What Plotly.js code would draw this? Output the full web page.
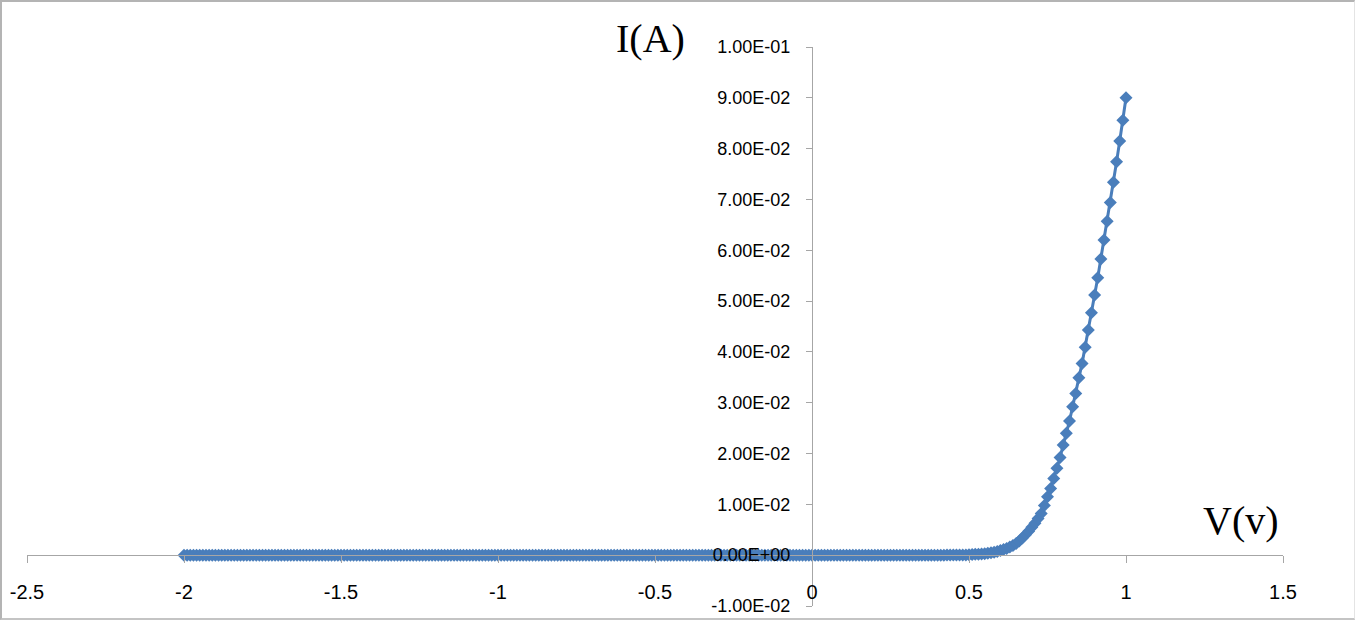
<!DOCTYPE html>
<html>
<head>
<meta charset="utf-8">
<script src="https://cdn.plot.ly/plotly-3.0.1.min.js"></script>
<style>
  html, body { margin: 0; padding: 0; background: #fff; }
  #wrap { position: relative; width: 1358px; height: 624px; overflow: hidden; }
  #chart { position: absolute; left: 0; top: 0; width: 1358px; height: 624px; }
  #frame { position: absolute; left: 0; top: 0; width: 1355px; height: 620px;
           border-left: 2px solid #b4b4b4; border-top: 2px solid #b4b4b4;
           border-bottom: 2px solid #c4c4c4; border-right: 1px solid #e4e4e4;
           pointer-events: none; box-sizing: border-box; }
</style>
</head>
<body>
<div id="wrap"><div id="chart"></div><div id="frame"></div></div>
<script>
// Voltage (V), step 0.01 from -2 to 1
const voltage = [
-2.00,-1.99,-1.98,-1.97,-1.96,-1.95,-1.94,-1.93,-1.92,-1.91,-1.90,-1.89,-1.88,-1.87,-1.86,-1.85,-1.84,-1.83,-1.82,-1.81,
-1.80,-1.79,-1.78,-1.77,-1.76,-1.75,-1.74,-1.73,-1.72,-1.71,-1.70,-1.69,-1.68,-1.67,-1.66,-1.65,-1.64,-1.63,-1.62,-1.61,
-1.60,-1.59,-1.58,-1.57,-1.56,-1.55,-1.54,-1.53,-1.52,-1.51,-1.50,-1.49,-1.48,-1.47,-1.46,-1.45,-1.44,-1.43,-1.42,-1.41,
-1.40,-1.39,-1.38,-1.37,-1.36,-1.35,-1.34,-1.33,-1.32,-1.31,-1.30,-1.29,-1.28,-1.27,-1.26,-1.25,-1.24,-1.23,-1.22,-1.21,
-1.20,-1.19,-1.18,-1.17,-1.16,-1.15,-1.14,-1.13,-1.12,-1.11,-1.10,-1.09,-1.08,-1.07,-1.06,-1.05,-1.04,-1.03,-1.02,-1.01,
-1.00,-0.99,-0.98,-0.97,-0.96,-0.95,-0.94,-0.93,-0.92,-0.91,-0.90,-0.89,-0.88,-0.87,-0.86,-0.85,-0.84,-0.83,-0.82,-0.81,
-0.80,-0.79,-0.78,-0.77,-0.76,-0.75,-0.74,-0.73,-0.72,-0.71,-0.70,-0.69,-0.68,-0.67,-0.66,-0.65,-0.64,-0.63,-0.62,-0.61,
-0.60,-0.59,-0.58,-0.57,-0.56,-0.55,-0.54,-0.53,-0.52,-0.51,-0.50,-0.49,-0.48,-0.47,-0.46,-0.45,-0.44,-0.43,-0.42,-0.41,
-0.40,-0.39,-0.38,-0.37,-0.36,-0.35,-0.34,-0.33,-0.32,-0.31,-0.30,-0.29,-0.28,-0.27,-0.26,-0.25,-0.24,-0.23,-0.22,-0.21,
-0.20,-0.19,-0.18,-0.17,-0.16,-0.15,-0.14,-0.13,-0.12,-0.11,-0.10,-0.09,-0.08,-0.07,-0.06,-0.05,-0.04,-0.03,-0.02,-0.01,
0.00,0.01,0.02,0.03,0.04,0.05,0.06,0.07,0.08,0.09,0.10,0.11,0.12,0.13,0.14,0.15,0.16,0.17,0.18,0.19,
0.20,0.21,0.22,0.23,0.24,0.25,0.26,0.27,0.28,0.29,0.30,0.31,0.32,0.33,0.34,0.35,0.36,0.37,0.38,0.39,
0.40,0.41,0.42,0.43,0.44,0.45,0.46,0.47,0.48,0.49,0.50,0.51,0.52,0.53,0.54,0.55,0.56,0.57,0.58,0.59,
0.60,0.61,0.62,0.63,0.64,0.65,0.66,0.67,0.68,0.69,0.70,0.71,0.72,0.73,0.74,0.75,0.76,0.77,0.78,0.79,
0.80,0.81,0.82,0.83,0.84,0.85,0.86,0.87,0.88,0.89,0.90,0.91,0.92,0.93,0.94,0.95,0.96,0.97,0.98,0.99,
1.00
];

// Current (A)
const current = [
0,0,0,0,0,0,0,0,0,0,0,0,0,0,0,0,0,0,0,0,
0,0,0,0,0,0,0,0,0,0,0,0,0,0,0,0,0,0,0,0,
0,0,0,0,0,0,0,0,0,0,0,0,0,0,0,0,0,0,0,0,
0,0,0,0,0,0,0,0,0,0,0,0,0,0,0,0,0,0,0,0,
0,0,0,0,0,0,0,0,0,0,0,0,0,0,0,0,0,0,0,0,
0,0,0,0,0,0,0,0,0,0,0,0,0,0,0,0,0,0,0,0,
0,0,0,0,0,0,0,0,0,0,0,0,0,0,0,0,0,0,0,0,
0,0,0,0,0,0,0,0,0,0,0,0,0,0,0,0,0,0,0,0,
0,0,0,0,0,0,0,0,0,0,0,0,0,0,0,0,0,0,0,0,
0,0,0,0,0,0,0,0,0,0,0,0,0,0,0,0,0,0,0,0,
0,0,0,0,0,0,0,0,0,0,0,0,0,0,0,0,0,0,0,0,
0,0,0,0,0,0,0,0,0,0,0,0,0,0,0,0,0,0,0,0,
0.00001,0.00001,0.00001,0.00002,0.00002,0.00003,0.00003,0.00004,0.00005,0.00006,
0.0001,0.00012,0.00016,0.0002,0.00025,0.0003,0.0004,0.0005,0.0006,0.0007,
0.0009,0.0011,0.0013,0.0016,0.0019,0.0023,0.0028,0.0034,0.0040,0.0047,
0.0055,0.0063,0.0072,0.0082,0.0098,0.0115,0.0131,0.0151,0.0171,0.0192,
0.0217,0.0240,0.0264,0.0292,0.0318,0.0349,0.0377,0.0409,0.0443,0.0477,
0.0512,0.0546,0.0583,0.0620,0.0657,0.0694,0.0734,0.0774,0.0815,0.0856,
0.0900
];

const xTickVals = [-2.5, -2, -1.5, -1, -0.5, 0, 0.5, 1, 1.5];
const xTickText = ["-2.5", "-2", "-1.5", "-1", "-0.5", "0", "0.5", "1", "1.5"];
const yTickVals = [-0.01, 0, 0.01, 0.02, 0.03, 0.04, 0.05, 0.06, 0.07, 0.08, 0.09, 0.10];
const yTickText = ["-1.00E-02", "0.00E+00", "1.00E-02", "2.00E-02", "3.00E-02", "4.00E-02",
                   "5.00E-02", "6.00E-02", "7.00E-02", "8.00E-02", "9.00E-02", "1.00E-01"];

const yTitle = "I(A)";
const xTitle = "V(v)";

const blue = "#4a7ebb";
const axisGray = "#a6a6a6";

const trace = {
  x: voltage, y: current, type: "scatter", mode: "lines+markers",
  line: { color: blue, width: 3 },
  marker: { symbol: "diamond", size: 10, color: blue },
  hoverinfo: "skip", showlegend: false
};

const layout = {
  width: 1358, height: 624,
  margin: { l: 27, r: 75, t: 47, b: 18, pad: 0 },
  paper_bgcolor: "rgba(0,0,0,0)", plot_bgcolor: "rgba(0,0,0,0)",
  showlegend: false,
  xaxis: {
    range: [-2.5, 1.5], anchor: "free", position: 0.01 / 0.11,
    showgrid: false, zeroline: false,
    showline: true, linecolor: axisGray, linewidth: 1,
    ticks: "outside", ticklen: 7, tickcolor: axisGray, tickwidth: 1,
    tickvals: xTickVals, ticktext: xTickText,
    ticklabelstandoff: 12,
    tickfont: { family: "Liberation Sans, Arial, sans-serif", size: 20, color: "#000" },
    layer: "above traces"
  },
  yaxis: {
    range: [-0.01, 0.1], anchor: "free", position: 2.5 / 4,
    showgrid: false, zeroline: false,
    showline: true, linecolor: axisGray, linewidth: 1,
    ticks: "outside", ticklen: 6, tickcolor: axisGray, tickwidth: 1,
    tickvals: yTickVals, ticktext: yTickText,
    ticklabelstandoff: 12,
    tickfont: { family: "Liberation Sans, Arial, sans-serif", size: 18, color: "#000" },
    layer: "above traces"
  },
  annotations: [
    { text: yTitle, xref: "x", yref: "paper", x: -0.513, y: 1 + 8 / 559,
      xanchor: "center", yanchor: "middle", showarrow: false,
      font: { family: "Liberation Serif, Times New Roman, serif", size: 40, color: "#000" } },
    { text: xTitle, xref: "x", yref: "y", x: 1.366, y: 0.0068,
      xanchor: "center", yanchor: "middle", showarrow: false,
      font: { family: "Liberation Serif, Times New Roman, serif", size: 40, color: "#000" } }
  ]
};

Plotly.newPlot("chart", [trace], layout, { staticPlot: true, displayModeBar: false });
</script>
</body>
</html>
